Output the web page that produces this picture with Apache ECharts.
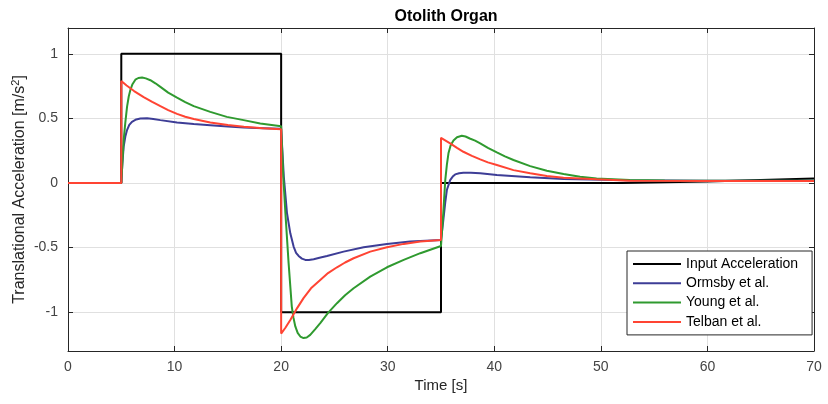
<!DOCTYPE html>
<html>
<head>
<meta charset="utf-8">
<script src="https://cdn.jsdelivr.net/npm/echarts@6/dist/echarts.min.js"></script>
<style>
html,body{margin:0;padding:0;background:#fff;}
#chart{width:828px;height:404px;}
</style>
</head>
<body>
<div id="chart"></div>
<script>
const seriesNames = ['Input Acceleration', 'Ormsby et al.', 'Young et al.', 'Telban et al.'];
const xTicks = [0, 10, 20, 30, 40, 50, 60, 70];
const yTicks = [-1, -0.5, 0, 0.5, 1];

const inputT = [0, 5, 5, 20, 20, 35, 35, 52, 60, 70];
const inputV = [0, 0, 1, 1, -1, -1, 0, 0, 0.012, 0.035];

const ormsbyT = [0, 5, 5.1, 5.22, 5.38, 5.54, 5.75, 6.0, 6.4, 6.79, 7.42, 8.0, 8.67, 10.23, 11.8, 13.35, 15, 16.48, 18.3, 20.0,
  20.25, 20.55, 20.86, 21.17, 21.4, 21.64, 21.95, 22.27, 22.6, 23.05, 23.6, 24.3, 25.86, 27.74, 29.93, 32.1, 35.0,
  35.2, 35.4, 35.55, 35.86, 36.1, 36.33, 36.7, 37.1, 37.8, 38.68, 40.24, 43.37, 46.5, 52.7, 60, 70];
const ormsbyV = [0, 0, 0.15, 0.28, 0.36, 0.41, 0.45, 0.474, 0.492, 0.5, 0.502, 0.496, 0.487, 0.469, 0.457, 0.448, 0.438, 0.43, 0.425, 0.42,
  0.05, -0.234, -0.389, -0.492, -0.54, -0.564, -0.585, -0.595, -0.596, -0.59, -0.578, -0.564, -0.531, -0.497, -0.471, -0.453, -0.44,
  -0.3, -0.15, -0.054, 0.023, 0.05, 0.067, 0.076, 0.08, 0.079, 0.075, 0.062, 0.044, 0.031, 0.021, 0.018, 0.018];

const youngT = [0, 5, 5.1, 5.22, 5.38, 5.54, 5.7, 5.85, 6.05, 6.32, 6.6, 6.95, 7.3, 7.73, 8.2, 8.67, 9.4, 10.23, 11.0, 11.8, 13.35, 14.9, 16.48, 18.04, 20.0,
  20.2, 20.4, 20.7, 21.0, 21.15, 21.33, 21.55, 21.8, 22.1, 22.4, 22.73, 23.2, 23.67, 24.4, 25.24, 26.0, 26.8, 28.36, 29.93, 31.5, 33.06, 35.0,
  35.2, 35.4, 35.55, 35.7, 35.9, 36.17, 36.5, 36.95, 37.3, 37.7, 38.2, 38.68, 39.4, 40.24, 41.0, 41.8, 43.37, 44.93, 46.5, 48.05, 49.6, 52.7, 56, 60, 70];
const youngV = [0, 0, 0.15, 0.33, 0.47, 0.59, 0.67, 0.72, 0.765, 0.8, 0.813, 0.817, 0.81, 0.796, 0.772, 0.744, 0.7, 0.662, 0.627, 0.595, 0.551, 0.512, 0.487, 0.461, 0.44,
  0.05, -0.234, -0.62, -0.956, -1.04, -1.11, -1.16, -1.188, -1.2, -1.195, -1.175, -1.13, -1.084, -1.005, -0.93, -0.868, -0.814, -0.724, -0.652, -0.595, -0.543, -0.487,
  -0.25, 0.023, 0.14, 0.23, 0.29, 0.33, 0.355, 0.366, 0.36, 0.345, 0.328, 0.307, 0.272, 0.237, 0.206, 0.178, 0.131, 0.095, 0.07, 0.049, 0.036, 0.023, 0.02, 0.018, 0.018];

const telbanT = [0, 5, 5, 5.5, 6.2, 7.1, 7.9, 8.67, 9.4, 10.23, 11.0, 11.8, 13.35, 15, 16.5, 18.3, 20.0,
  20.0, 20.4, 20.86, 21.5, 22.1, 22.8, 23.67, 24.4, 25.24, 26.0, 26.8, 28.36, 29.93, 31.5, 33.06, 35.0,
  35.0, 35.86, 36.5, 37.1, 37.9, 38.68, 39.4, 40.24, 41.8, 43.37, 44.93, 46.5, 49.6, 52.7, 60, 70];
const telbanV = [0, 0, 0.79, 0.755, 0.712, 0.665, 0.628, 0.595, 0.565, 0.535, 0.513, 0.495, 0.468, 0.449, 0.436, 0.424, 0.416,
  -1.165, -1.12, -1.06, -0.968, -0.891, -0.815, -0.75, -0.697, -0.652, -0.615, -0.582, -0.531, -0.497, -0.471, -0.453, -0.44,
  0.35, 0.307, 0.272, 0.242, 0.21, 0.183, 0.16, 0.139, 0.1, 0.075, 0.054, 0.041, 0.029, 0.018, 0.015, 0.015];

const colors = ['#000000', '#3d3d96', '#2f9a2f', '#ff4433'];

function pairs(t, v) { return t.map((x, i) => [x, v[i]]); }
const seriesData = [pairs(inputT, inputV), pairs(ormsbyT, ormsbyV), pairs(youngT, youngV), pairs(telbanT, telbanV)];

const font = 'Liberation Sans, Arial, Helvetica, sans-serif';
const axisColor = '#262626';

const chart = echarts.init(document.getElementById('chart'), null, {renderer: 'canvas'});
chart.setOption({
  animation: false,
  backgroundColor: '#ffffff',
  title: {
    text: 'Otolith Organ',
    left: 441, top: 4, textAlign: 'center',
    textStyle: {fontFamily: font, fontSize: 16, fontWeight: 'bold', color: '#000'}
  },
  grid: {left: 68, right: 14, top: 28, bottom: 53, containLabel: false, outerBoundsMode: 'none'},
  legend: {
    orient: 'vertical',
    left: 627, top: 251,
    padding: [6, 14, 6, 5],
    itemWidth: 48, itemHeight: 14, itemGap: 5.3,
    borderColor: axisColor, borderWidth: 1, borderRadius: 0,
    backgroundColor: '#ffffff',
    itemStyle: {opacity: 0},
    lineStyle: {width: 2},
    textStyle: {fontFamily: font, fontSize: 14, color: '#000'},
    data: seriesNames
  },
  xAxis: [{
    type: 'value', min: 0, max: 70, interval: 10,
    name: 'Time [s]', nameLocation: 'middle', nameGap: 27, nameMoveOverlap: false,
    nameTextStyle: {fontFamily: font, fontSize: 15, color: '#262626'},
    axisLine: {show: true, onZero: false, lineStyle: {color: axisColor, width: 1}},
    axisTick: {show: true, inside: true, length: 5, lineStyle: {color: axisColor}},
    axisLabel: {fontFamily: font, fontSize: 14, color: '#444', margin: 9},
    splitLine: {show: true, lineStyle: {color: '#e0e0e0', width: 1}}
  }, {
    type: 'value', min: 0, max: 70, interval: 10, position: 'top',
    axisLine: {show: true, onZero: false, lineStyle: {color: axisColor, width: 1}},
    axisTick: {show: true, inside: true, length: 5, lineStyle: {color: axisColor}},
    axisLabel: {show: false},
    splitLine: {show: false}
  }],
  yAxis: [{
    type: 'value', min: -1.3, max: 1.2,
    name: 'Translational Acceleration [m/s{sup|2}]', nameLocation: 'middle', nameGap: 38, nameMoveOverlap: false,
    nameTextStyle: {fontFamily: font, fontSize: 16, color: '#262626', lineHeight: 20,
      rich: {sup: {fontFamily: font, fontSize: 11, color: '#262626', verticalAlign: 'top', lineHeight: 20, padding: [0, 0, 7, 0]}}},
    axisLine: {show: true, onZero: false, lineStyle: {color: axisColor, width: 1}},
    axisTick: {show: true, inside: true, length: 5, customValues: yTicks, lineStyle: {color: axisColor}},
    axisLabel: {fontFamily: font, fontSize: 14, color: '#444', margin: 10, customValues: yTicks,
      formatter: v => String(v)},
    splitLine: {show: true, lineStyle: {color: '#e0e0e0', width: 1}}
  }, {
    type: 'value', min: -1.3, max: 1.2, position: 'right',
    axisLine: {show: true, onZero: false, lineStyle: {color: axisColor, width: 1}},
    axisTick: {show: true, inside: true, length: 5, customValues: yTicks, lineStyle: {color: axisColor}},
    axisLabel: {show: false},
    splitLine: {show: false}
  }],
  series: seriesNames.map((name, i) => ({
    name: name,
    type: 'line',
    xAxisIndex: 0, yAxisIndex: 0,
    data: seriesData[i],
    symbol: 'none',
    smooth: false,
    z: i === 0 ? 2 : 3 + i,
    lineStyle: {color: colors[i], width: 2},
    itemStyle: {color: colors[i]}
  }))
});
</script>
</body>
</html>
